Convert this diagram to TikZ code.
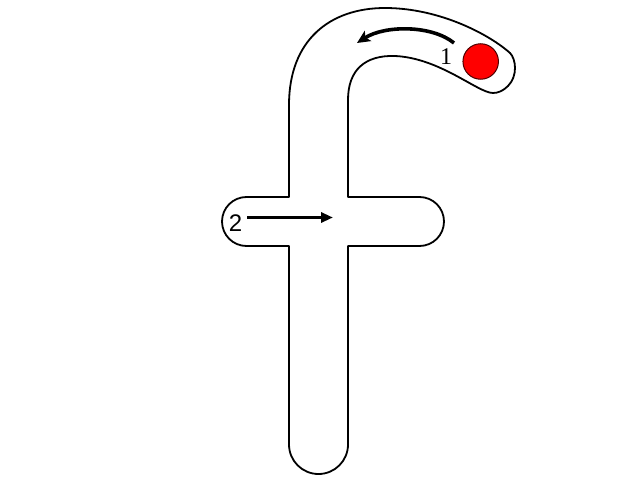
\documentclass[tikz,border=0pt]{standalone}
\usepackage{fontspec}
\setmainfont{Liberation Serif}
\newfontfamily\labsans{Liberation Sans}
\usetikzlibrary{arrows.meta}
\begin{document}
\begin{tikzpicture}[x=1pt,y=1pt,
  outline/.style={draw=black,line width=1.8pt,line join=round},
  strokearrow/.style={line width=3.6pt},
  dot/.style={circle,fill=red,draw=black!70!red,line width=1pt,minimum size=35.5pt,inner sep=0pt},
  serlab/.style={font=\fontsize{24}{24}\selectfont,inner sep=0pt},
  sanslab/.style={font=\labsans\fontsize{24}{24}\selectfont,inner sep=0pt}]
\useasboundingbox (0,0) rectangle (640,480);
% letter f outline
\draw[outline] (289,283) -- (289,375)
  .. controls (289,440) and (330,472) .. (385,472)
  .. controls (440,472) and (490,445) .. (510,427)
  .. controls (516,421) and (518,404) .. (508,394)
  .. controls (503,389) and (498,387) .. (493,387)
  .. controls (478,387) and (440,422) .. (395,424)
  .. controls (365,425) and (348,410) .. (348,380)
  -- (348,283) -- (419.5,283) arc[start angle=90,end angle=-90,radius=24.5]
  -- (348,234) -- (348,35.5) arc[start angle=0,end angle=-180,radius=29.5]
  -- (289,234) -- (246.5,234) arc[start angle=270,end angle=90,radius=24.5]
  -- cycle;
% start dot
\node[dot] (start) at (480.7,418.5) {};
% labels
\node[serlab] (l1) at (446,423) {1};
\node[sanslab] (l2) at (235.5,256.5) {2};
% arrows
\coordinate (a1s) at (454,437);
\coordinate (a1e) at (357,437);
\draw[strokearrow,-{Stealth[length=13pt,width=12pt,inset=3pt]}] (a1s) .. controls (432,455) and (385,455) .. (a1e);
\coordinate (a2s) at (247,262.5);
\coordinate (a2e) at (333,262.5);
\draw[strokearrow,-{Triangle[length=12pt,width=10pt]}] (a2s) -- (a2e);
\end{tikzpicture}
\end{document}
